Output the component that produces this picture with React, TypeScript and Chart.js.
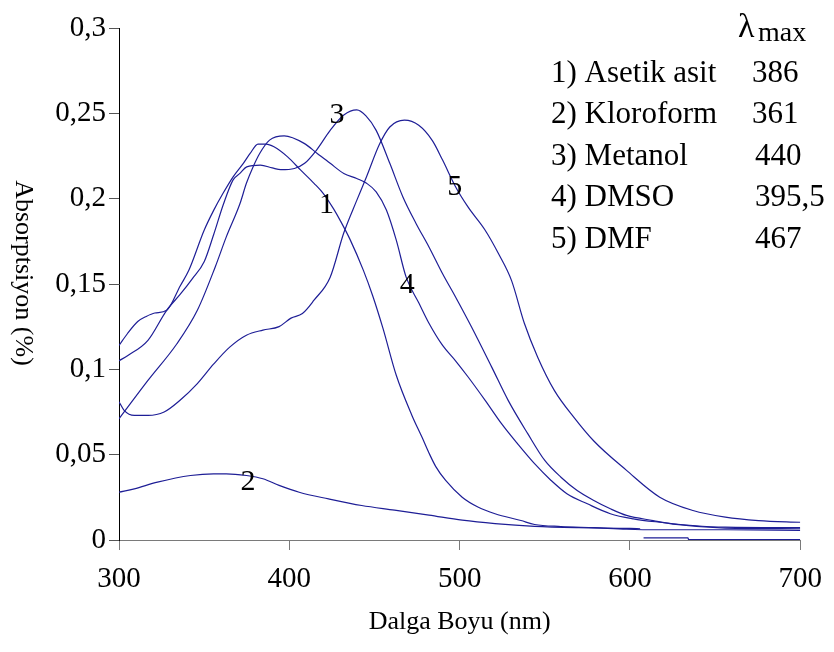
import React, { useEffect, useRef } from 'react';
import { Chart, registerables } from 'chart.js';

Chart.register(...registerables);

const SERIF = '"Liberation Serif", "Times New Roman", serif';
const LINE_COLOR = '#1e1e96';

// Wavelengths (nm) and absorbance for each solvent
const wlAsetik = [300, 305, 311, 316, 321, 328, 336, 341, 350, 355.5, 361, 367, 373, 377, 381.6, 386.4, 391, 399, 406.7, 414.5, 420, 426, 430, 435.7, 443.5, 449, 455, 462.8, 472, 478, 482, 486, 491.8, 501.5, 511, 520.8, 536, 544, 559.5, 579, 598, 617.5, 656, 700];
const absAsetik = [0.114, 0.121, 0.128, 0.131, 0.133, 0.1346, 0.149, 0.158, 0.1815, 0.193, 0.203, 0.2128, 0.2207, 0.2265, 0.232, 0.232, 0.2304, 0.2245, 0.2167, 0.209, 0.203, 0.194, 0.187, 0.176, 0.158, 0.143, 0.124, 0.0965, 0.073, 0.06, 0.051, 0.043, 0.0349, 0.0251, 0.0192, 0.0154, 0.0114, 0.0091, 0.0079, 0.0072, 0.0063, 0.006, 0.006, 0.0056];

const wlKloroform = [300, 309, 322.6, 342, 355.5, 363, 374.8, 384.5, 394, 405.8, 423, 442.5, 461.8, 482, 501.5, 520.8, 544, 570, 600, 606, 607, 608, 634, 634.5, 700];
const absKloroform = [0.028, 0.03, 0.0339, 0.0378, 0.0388, 0.0388, 0.0378, 0.0359, 0.032, 0.028, 0.0241, 0.0202, 0.0175, 0.0146, 0.0116, 0.0096, 0.008, 0.0072, 0.0068, 0.0066, null, 0.0013, 0.0013, 0.0002, 0.0002];

const wlMetanol = [300, 305, 317, 328, 336, 343, 350, 355.6, 361.4, 367, 371, 375, 383, 390, 395, 403, 409, 416, 424, 432, 439.6, 445, 451, 459, 466.7, 474.4, 482, 490, 497.6, 507, 519, 528.5, 540, 550, 559.5, 569, 578.8, 588.5, 598, 613.6, 627, 656, 700];
const absMetanol = [0.105, 0.108, 0.117, 0.1346, 0.144, 0.153, 0.163, 0.179, 0.197, 0.211, 0.2148, 0.2186, 0.2196, 0.218, 0.217, 0.2177, 0.2207, 0.2285, 0.24, 0.249, 0.252, 0.2485, 0.24, 0.2207, 0.201, 0.1855, 0.1717, 0.156, 0.1424, 0.1248, 0.101, 0.0818, 0.0623, 0.0466, 0.0368, 0.029, 0.0232, 0.0183, 0.0144, 0.0114, 0.0091, 0.007, 0.0066];

const wlDmso = [300, 317, 334, 346, 356.5, 363, 371, 374.8, 378.7, 382.6, 388.4, 397, 408.7, 416.4, 424, 432, 439.6, 445.4, 451, 457, 462.8, 468.6, 476, 482, 490, 497.6, 505, 515, 524.7, 534, 544, 553.7, 563, 575, 588.5, 602, 617.5, 637, 656, 700];
const absDmso = [0.071, 0.0935, 0.115, 0.1346, 0.16, 0.1776, 0.197, 0.209, 0.2186, 0.2265, 0.2343, 0.2368, 0.2324, 0.2265, 0.2207, 0.2148, 0.2118, 0.209, 0.204, 0.1933, 0.1757, 0.154, 0.139, 0.127, 0.114, 0.105, 0.0955, 0.0818, 0.068, 0.0564, 0.0447, 0.0349, 0.0271, 0.0212, 0.0154, 0.0124, 0.0104, 0.0085, 0.0075, 0.0072];

const wlDmf = [300, 303, 309, 317, 326.5, 336, 346, 355.5, 365, 374.8, 384.5, 394, 401, 407.7, 414.5, 424, 432, 439.6, 445.4, 453, 459, 467.6, 476, 484, 490, 497.6, 505, 515, 522.7, 530.5, 538, 545.9, 555.6, 567, 578.8, 598, 617.5, 637, 656, 675.5, 700];
const absDmf = [0.081, 0.076, 0.073, 0.073, 0.075, 0.082, 0.0916, 0.103, 0.113, 0.12, 0.123, 0.125, 0.13, 0.1327, 0.1405, 0.154, 0.18, 0.199, 0.213, 0.232, 0.242, 0.246, 0.243, 0.234, 0.2226, 0.207, 0.195, 0.1815, 0.168, 0.152, 0.127, 0.107, 0.0877, 0.072, 0.058, 0.0408, 0.0251, 0.0173, 0.0134, 0.0114, 0.0104];

const solventNames = ['Asetik asit', 'Kloroform', 'Metanol', 'DMSO', 'DMF'];
const lambdaMaxText = ['386', '361', '440', '395,5', '467'];

// Curve numbers written beside the spectra (data coordinates)
const curveNumbers = ['1', '2', '3', '4', '5'];
const curveNumberX = [421.8, 375.8, 428, 469.2, 497.2];
const curveNumberY = [0.1962, 0.0339, 0.249, 0.1493, 0.2069];

const xTickValues = [300, 400, 500, 600, 700];
const yTickValues = [0, 0.05, 0.1, 0.15, 0.2, 0.25, 0.3];
const yTickLabels = ['0', '0,05', '0,1', '0,15', '0,2', '0,25', '0,3'];

const toPoints = (xs: number[], ys: (number | null)[]) => xs.map((x, i) => ({ x, y: ys[i] }));

const seriesX = [wlAsetik, wlKloroform, wlMetanol, wlDmso, wlDmf];
const seriesY = [absAsetik, absKloroform, absMetanol, absDmso, absDmf];

// Curve numbers, the λmax key and the rotated y title
const textPlugin = {
  id: 'spectraText',
  afterDatasetsDraw(chart: any) {
    const { ctx, scales } = chart;
    const x = scales.x;
    const y = scales.y;
    ctx.save();
    ctx.fillStyle = '#000';
    ctx.font = `30px ${SERIF}`;
    ctx.textAlign = 'center';
    ctx.textBaseline = 'middle';
    curveNumbers.forEach((t, i) => {
      ctx.fillText(t, x.getPixelForValue(curveNumberX[i]), y.getPixelForValue(curveNumberY[i]));
    });

    // λmax key
    ctx.textAlign = 'left';
    ctx.textBaseline = 'alphabetic';
    ctx.font = `34px ${SERIF}`;
    ctx.fillText('λ', 738, 37);
    ctx.font = `28px ${SERIF}`;
    ctx.fillText('max', 758, 41);
    ctx.font = `31px ${SERIF}`;
    const rowY = [82, 123, 165, 206, 248];
    const valX = [752, 752, 755, 755, 755];
    solventNames.forEach((name, i) => {
      ctx.fillText(`${i + 1}) ${name}`, 551, rowY[i]);
      ctx.fillText(lambdaMaxText[i], valX[i], rowY[i]);
    });

    // y axis title, reading downward
    ctx.font = `26px ${SERIF}`;
    ctx.textAlign = 'center';
    ctx.textBaseline = 'middle';
    ctx.translate(23, 273);
    ctx.rotate(Math.PI / 2);
    ctx.fillText('Absorptsiyon (%)', 0, 0);
    ctx.restore();
  },
};

export default function App() {
  const canvasRef = useRef<HTMLCanvasElement | null>(null);

  useEffect(() => {
    document.body.style.margin = '0';
    const canvas = canvasRef.current;
    if (!canvas) return;
    const chart = new Chart(canvas, {
      type: 'line',
      data: {
        datasets: solventNames.map((name, i) => ({
          label: name,
          data: toPoints(seriesX[i], seriesY[i]),
          borderColor: LINE_COLOR,
          backgroundColor: LINE_COLOR,
          borderWidth: 1.2,
          pointRadius: 0,
          fill: false,
          spanGaps: false,
          cubicInterpolationMode: 'monotone' as const,
        })),
      },
      options: {
        responsive: false,
        animation: false,
        devicePixelRatio: 1,
        layout: { padding: { top: 28, right: 24, left: 0, bottom: 0 } },
        plugins: {
          legend: { display: false },
          tooltip: { enabled: false },
        },
        scales: {
          x: {
            type: 'linear',
            min: 300,
            max: 700,
            afterBuildTicks: (scale: any) => {
              scale.ticks = xTickValues.map((v) => ({ value: v }));
            },
            afterFit: (scale: any) => {
              scale.height = 112;
            },
            ticks: {
              color: '#000',
              font: { family: SERIF, size: 29 },
              padding: 12,
              maxRotation: 0,
              callback: (v: any) => String(v),
            },
            grid: {
              drawOnChartArea: false,
              drawTicks: true,
              tickLength: 10,
              color: '#7a7a7a',
            },
            border: { display: true, color: '#7a7a7a', width: 1 },
            title: {
              display: true,
              text: 'Dalga Boyu (nm)',
              color: '#000',
              font: { family: SERIF, size: 26 },
              padding: { top: 0, bottom: 14 },
            },
          },
          y: {
            type: 'linear',
            min: 0,
            max: 0.3,
            afterBuildTicks: (scale: any) => {
              scale.ticks = yTickValues.map((v) => ({ value: v }));
            },
            afterFit: (scale: any) => {
              scale.width = 119;
            },
            ticks: {
              color: '#000',
              font: { family: SERIF, size: 29 },
              padding: 3,
              callback: (_v: any, index: number) => yTickLabels[index],
            },
            grid: {
              drawOnChartArea: false,
              drawTicks: true,
              tickLength: 10,
              color: '#555',
            },
            border: { display: true, color: '#000', width: 1 },
          },
        },
      },
      plugins: [textPlugin],
    });
    return () => chart.destroy();
  }, []);

  return <canvas ref={canvasRef} width={834} height={652} style={{ display: 'block' }} />;
}
